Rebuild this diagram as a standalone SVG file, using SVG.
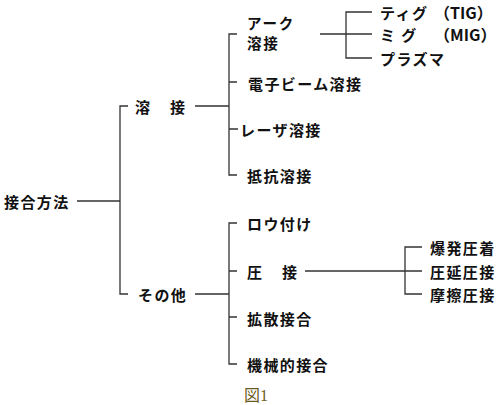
<svg xmlns="http://www.w3.org/2000/svg" width="500" height="405" viewBox="0 0 500 405">
<style>
.t{font-family:"Noto Sans CJK JP","Noto Sans",sans-serif;font-size:15px;font-weight:bold;fill:#111;letter-spacing:1.4px;dominant-baseline:central}
.c{stroke:#333;stroke-width:1.3;fill:none}
.cap{font-family:"Liberation Serif","Noto Sans CJK JP",serif;font-size:16px;fill:#6b5a22;dominant-baseline:central}
</style>
<rect width="500" height="405" fill="#fff"/>
<g id="connectors" class="c">
<path d="M77 201H120M128 106H120V294H128"/>
<path d="M195 106H229M237 34H229V175H237M229 82H237M229 129H238"/>
<path d="M195 294H229M237 223H229V364H237M229 271H237M229 317H237"/>
<path d="M320 34H346M372 12H346V58H372M346 34H372"/>
<path d="M305 271H405M422 247H405V294H422M405 271H422"/>
</g>
<g id="root"><text class="t" x="4" y="201">接合方法</text></g>
<g id="yosetsu"><text class="t" x="135" y="106" style="letter-spacing:2.5px">溶　接</text></g>
<g id="sonota"><text class="t" x="138" y="294">その他</text></g>
<g id="arc"><text class="t" x="247" y="22" style="font-size:14.5px;letter-spacing:1.8px">アーク</text><text class="t" x="247" y="42" style="font-size:14.5px;letter-spacing:1.8px">溶接</text></g>
<g id="tig"><text class="t" x="380" y="12">ティグ</text><text class="t" x="434" y="12" style="letter-spacing:0;font-size:16px">（TIG）</text></g>
<g id="mig"><text class="t" x="380" y="34">ミ グ</text><text class="t" x="434" y="34" style="letter-spacing:0;font-size:16px">（MIG）</text></g>
<g id="plasma"><text class="t" x="380" y="58">プラズマ</text></g>
<g id="ebeam"><text class="t" x="248" y="83">電子ビーム溶接</text></g>
<g id="laser"><text class="t" x="240" y="129">レーザ溶接</text></g>
<g id="resist"><text class="t" x="247" y="175">抵抗溶接</text></g>
<g id="brazing"><text class="t" x="247" y="223">ロウ付け</text></g>
<g id="atsusetsu"><text class="t" x="247" y="271" style="letter-spacing:2.5px">圧　接</text></g>
<g id="bakuhatsu"><text class="t" x="430" y="247">爆発圧着</text></g>
<g id="atsuen"><text class="t" x="430" y="271">圧延圧接</text></g>
<g id="masatsu"><text class="t" x="430" y="294">摩擦圧接</text></g>
<g id="kakusan"><text class="t" x="247" y="318">拡散接合</text></g>
<g id="kikai"><text class="t" x="247" y="364">機械的接合</text></g>
<text class="cap" x="244" y="395">図1</text>
</svg>
